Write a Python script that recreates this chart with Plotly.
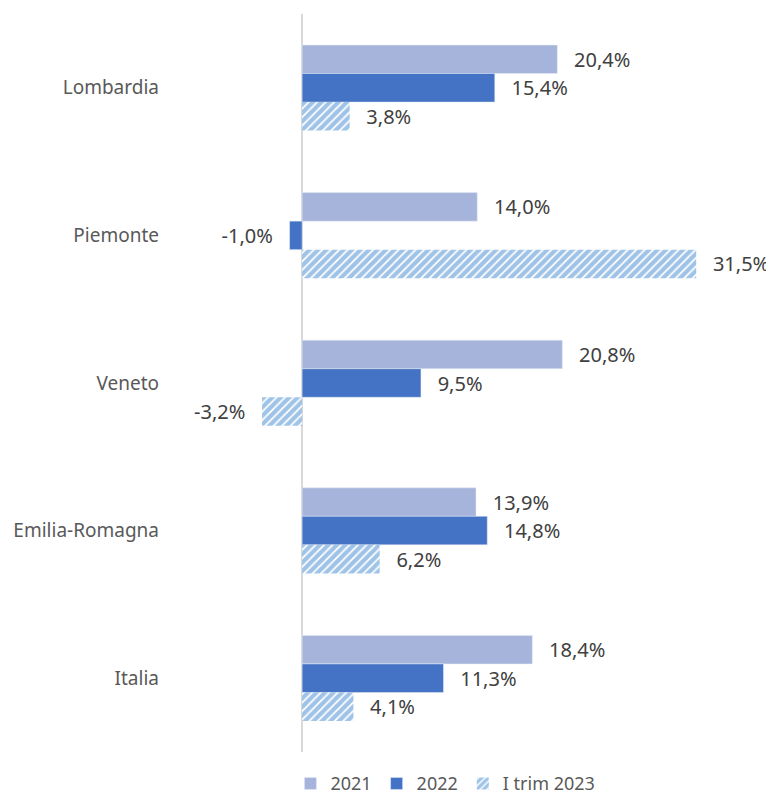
import plotly.graph_objects as go

regions = ["Lombardia", "Piemonte", "Veneto", "Emilia-Romagna", "Italia"]
series_names = ["2021", "2022", "I trim 2023"]
v2021 = [20.4, 14.0, 20.8, 13.9, 18.4]
v2022 = [15.4, -1.0, 9.5, 14.8, 11.3]
v2023 = [3.8, 31.5, -3.2, 6.2, 4.1]

PAD = "\u00a0\u00a0\u2009"

def labels(vals):
    out = []
    for v in vals:
        s = f"{v:.1f}%".replace(".", ",")
        out.append(s + PAD if v < 0 else PAD + s)
    return out

LABEL_FONT = dict(color="#404040", size=20, family="Noto Sans")

fig = go.Figure()
fig.add_trace(go.Bar(
    y=regions, x=v2021, name=series_names[0], orientation="h",
    marker=dict(color="#A6B4DB"),
    text=labels(v2021), textposition="outside", cliponaxis=False,
    textfont=LABEL_FONT,
))
fig.add_trace(go.Bar(
    y=regions, x=v2022, name=series_names[1], orientation="h",
    marker=dict(color="#4472C4"),
    text=labels(v2022), textposition="outside", cliponaxis=False,
    textfont=LABEL_FONT,
))
fig.add_trace(go.Bar(
    y=regions, x=v2023, name=series_names[2], orientation="h",
    marker=dict(color="white", line=dict(width=0),
                pattern=dict(shape="/", fgcolor="#3F88D0", bgcolor="white",
                             size=6, solidity=0.7, fillmode="overlay")),
    text=labels(v2023), textposition="outside", cliponaxis=False,
    textfont=LABEL_FONT,
))

fig.update_layout(
    width=774, height=804,
    margin=dict(l=164, r=22, t=6, b=60),
    paper_bgcolor="white", plot_bgcolor="white",
    barmode="group", bargap=0.42, bargroupgap=0,
    font=dict(family="Noto Sans", color="#595959", size=18),
    showlegend=True,
    legend=dict(orientation="h", x=0.465, xanchor="center", y=-0.043, yanchor="middle",
                font=dict(size=18, color="#595959"), traceorder="normal",
                itemwidth=30),
)
fig.update_xaxes(range=[-10.4, 36.6], showticklabels=False, showgrid=False,
                 zeroline=True, zerolinecolor="#D9D9D9", zerolinewidth=2,
                 showline=False, ticks="", automargin=False)
fig.update_yaxes(autorange="reversed", showgrid=False, ticks="", ticklabelstandoff=12,
                 tickfont=dict(size=19, color="#595959"), automargin=False)

fig.write_html("out.html")
